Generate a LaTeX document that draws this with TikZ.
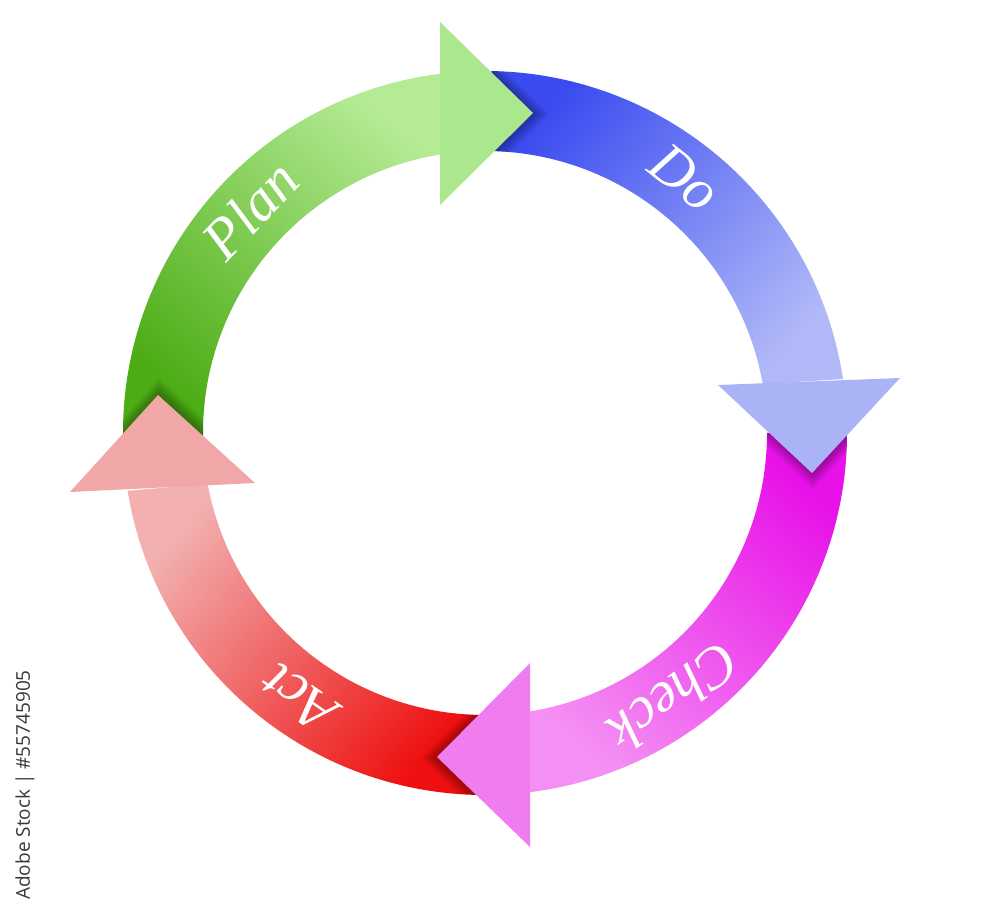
\documentclass[tikz,border=0pt]{standalone}
\usepackage{fontspec}
\setmainfont{Liberation Serif}
\newfontfamily\stockfont{Open Sans}

\definecolor{plandark}{HTML}{4CAC14}
\definecolor{planlight}{HTML}{B4EB94}
\definecolor{planhd}{HTML}{ABE78C}
\definecolor{dodark}{HTML}{3A4CF0}
\definecolor{dolight}{HTML}{B0B8F8}
\definecolor{dohd}{HTML}{ABB3F7}
\definecolor{checkdark}{HTML}{E812E8}
\definecolor{checklight}{HTML}{F490F3}
\definecolor{checkhd}{HTML}{F07DF0}
\definecolor{actdark}{HTML}{EE1010}
\definecolor{actlight}{HTML}{F2B0B0}
\definecolor{acthd}{HTML}{F1A7A7}
\definecolor{stockgray}{HTML}{383838}

% bands and heads, relative to the ring centre
\newcommand{\planband}{(181:362) arc[start angle=181, end angle=97.14, radius=362] -- (99.18:282) arc[start angle=99.18, end angle=181, radius=282] -- cycle}
\newcommand{\doband}{(89:362) arc[start angle=89, end angle=8.58, radius=362] -- (10.0:282) arc[start angle=10.0, end angle=89, radius=282] -- cycle}
\newcommand{\checkband}{(0:362) arc[start angle=0, end angle=-82.86, radius=362] -- (-80.82:282) arc[start angle=-80.82, end angle=0, radius=282] -- cycle}
\newcommand{\actband}{(270:362) arc[start angle=270, end angle=189.2, radius=362] -- (190.4:282) arc[start angle=190.4, end angle=270, radius=282] -- cycle}
\newcommand{\planhead}{(-45,411) -- (48,320) -- (-45,228) -- cycle}
\newcommand{\dohead}{(233,48) -- (327,-40) -- (415,55) -- cycle}
\newcommand{\checkhead}{(45,-230) -- (-48,-324) -- (45,-414) -- cycle}
\newcommand{\acthead}{(-415,-59) -- (-327,38) -- (-230,-50) -- cycle}

\begin{document}
\begin{tikzpicture}[
    x=0.5pt, y=0.5pt,
    planshade/.style={bottom color=plandark, top color=planlight, shading angle=-41},
    doshade/.style={bottom color=dodark, top color=dolight, shading angle=-130},
    checkshade/.style={bottom color=checkdark, top color=checklight, shading angle=139},
    actshade/.style={bottom color=actdark, top color=actlight, shading angle=50},
    hdshadow/.style={fill=black, opacity=0.045},
    lbl/.style={text=white, font=\fontsize{29}{29}\selectfont\itshape, inner sep=0pt}
]
\fill[white] (0,0) rectangle (1000,905);
\useasboundingbox (0,0) rectangle (1000,905);

\begin{scope}[shift={(485,472)}]
% bands
\shade[planshade] \planband;
\shade[doshade] \doband;
\shade[checkshade] \checkband;
\shade[actshade] \actband;

% soft shadows under the heads
\begin{scope}
  \clip \doband;
  \foreach \s in {2,4,...,16} \fill[hdshadow, shift={(\s,-1)}] \planhead;
\end{scope}
\begin{scope}
  \clip \checkband;
  \foreach \s in {2,4,...,16} \fill[hdshadow, shift={(1,-\s)}] \dohead;
\end{scope}
\begin{scope}
  \clip \actband;
  \foreach \s in {2,4,...,16} \fill[hdshadow, shift={(-\s,-1)}] \checkhead;
\end{scope}
\begin{scope}
  \clip \planband;
  \foreach \s in {2,4,...,16} \fill[hdshadow, shift={(1,\s)}] \acthead;
\end{scope}

% heads
\fill[planhd] \planhead;
\fill[dohd] \dohead;
\fill[checkhd] \checkhead;
\fill[acthd] \acthead;

% labels
\node[lbl, rotate=46.5] (plan) at (136.5:324) {Plan};
\node[lbl, rotate=-38] (do) at (51.9:324) {Do};
\node[lbl, rotate=-144.5] (check) at (-54.5:325) {Check};
\node[lbl, rotate=145] (act) at (235:324) {Act};
\end{scope}

\node[rotate=90, text=stockgray, font=\stockfont\fontsize{9.5}{10}\selectfont] (stock) at (25,120) {Adobe Stock | \#55745905};
\end{tikzpicture}
\end{document}
